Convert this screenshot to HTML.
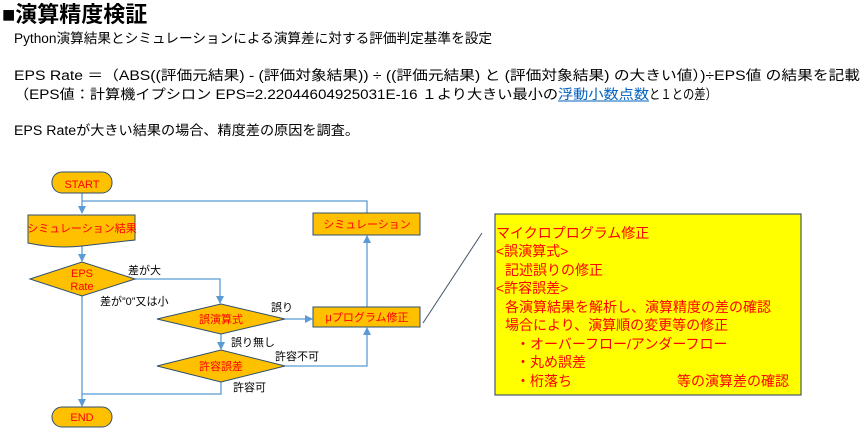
<!DOCTYPE html>
<html><head><meta charset="utf-8"><style>
html,body{margin:0;padding:0;background:#fff;}
svg{display:block;font-family:"Liberation Sans","Noto Sans CJK JP",sans-serif;}
</style></head><body>
<svg width="862" height="432" viewBox="0 0 862 432" xmlns="http://www.w3.org/2000/svg">
<defs><marker id="a" markerWidth="8" markerHeight="8" refX="7" refY="4" orient="auto" markerUnits="userSpaceOnUse"><path d="M0,0 L8,4 L0,8 z" fill="#5b9bd5"/></marker></defs>
<text x="2" y="22" font-size="22" font-weight="bold" fill="#000">■演算精度検証</text>
<g font-size="13.5" fill="#000">
<text x="14" y="43" textLength="478" lengthAdjust="spacingAndGlyphs">Python演算結果とシミュレーションによる演算差に対する評価判定基準を設定</text>
<text x="14" y="80" textLength="846" lengthAdjust="spacingAndGlyphs">EPS Rate ＝（ABS((評価元結果) - (評価対象結果)) ÷ ((評価元結果) と (評価対象結果) の大きい値）)÷EPS値 の結果を記載</text>
<text x="14" y="99" textLength="544" lengthAdjust="spacingAndGlyphs">（EPS値：計算機イプシロン  EPS=2.22044604925031E-16  １より大きい最小の</text>
<text x="558" y="99" textLength="91" lengthAdjust="spacingAndGlyphs" fill="#0563c1">浮動小数点数</text>
<text x="649" y="99" textLength="68" lengthAdjust="spacingAndGlyphs">と１との差）</text>
<line x1="558" y1="101" x2="649" y2="101" stroke="#0563c1" stroke-width="1"/>
<text x="14" y="135" textLength="345" lengthAdjust="spacingAndGlyphs">EPS Rateが大きい結果の場合、精度差の原因を調査。</text>
</g>
<g stroke="#5b9bd5" stroke-width="1.3" fill="none">
<line x1="82" y1="193" x2="82" y2="213" marker-end="url(#a)"/>
<polyline points="82,201 367,201 367,213"/>
<line x1="82" y1="246" x2="82" y2="261" marker-end="url(#a)"/>
<polyline points="135,279 220,279 220,303" marker-end="url(#a)"/>
<line x1="285" y1="319" x2="312" y2="319" marker-end="url(#a)"/>
<line x1="367" y1="307" x2="367" y2="236" marker-end="url(#a)"/>
<line x1="221" y1="334" x2="221" y2="349" marker-end="url(#a)"/>
<polyline points="285,366 367,366 367,328" marker-end="url(#a)"/>
<polyline points="221,382 221,394 82,394"/>
<line x1="82" y1="296" x2="82" y2="406" marker-end="url(#a)"/>
</g>
<g fill="#ffc000" stroke="#2f4f6f" stroke-width="1">
<rect x="52" y="172" width="60" height="21" rx="10"/>
<path d="M28,215 H135 V240 Q108,243 82,246 T28,243 Z"/>
<polygon points="30,279 82,262 135,279 82,296"/>
<rect x="313" y="213" width="107" height="22"/>
<polygon points="157,319 221,304 285,319 221,334"/>
<rect x="313" y="307" width="107" height="20"/>
<polygon points="157,366 221,350 285,366 221,382"/>
<rect x="52" y="407" width="60" height="20" rx="10"/>
</g>
<g font-size="11" fill="#ff0000" text-anchor="middle">
<text x="82" y="188">START</text>
<text x="82" y="232">シミュレーション結果</text>
<text x="82" y="277">EPS</text>
<text x="82" y="290">Rate</text>
<text x="367" y="228">シミュレーション</text>
<text x="221" y="323">誤演算式</text>
<text x="367" y="321">μプログラム修正</text>
<text x="221" y="370">許容誤差</text>
<text x="82" y="421">END</text>
</g>
<g font-size="11" fill="#000">
<text x="128" y="274">差が大</text>
<text x="100" y="305">差が”0”又は小</text>
<text x="271" y="311">誤り</text>
<text x="231" y="346">誤り無し</text>
<text x="275" y="360">許容不可</text>
<text x="233" y="391">許容可</text>
</g>
<line x1="423" y1="323" x2="482" y2="233" stroke="#44546a" stroke-width="1"/>
<rect x="495" y="214" width="306" height="181" fill="#ffff00" stroke="#1f3864" stroke-width="1"/>
<g font-size="14" fill="#ff0000">
<text x="496" y="238">マイクロプログラム修正</text>
<text x="496" y="256">&lt;誤演算式&gt;</text>
<text x="505" y="275">記述誤りの修正</text>
<text x="496" y="293">&lt;許容誤差&gt;</text>
<text x="505" y="312">各演算結果を解析し、演算精度の差の確認</text>
<text x="505" y="330">場合により、演算順の変更等の修正</text>
<text x="516" y="349">・オーバーフロー/アンダーフロー</text>
<text x="516" y="367">・丸め誤差</text>
<text x="516" y="386">・桁落ち</text>
<text x="677" y="386">等の演算差の確認</text>
</g>
</svg>
</body></html>
